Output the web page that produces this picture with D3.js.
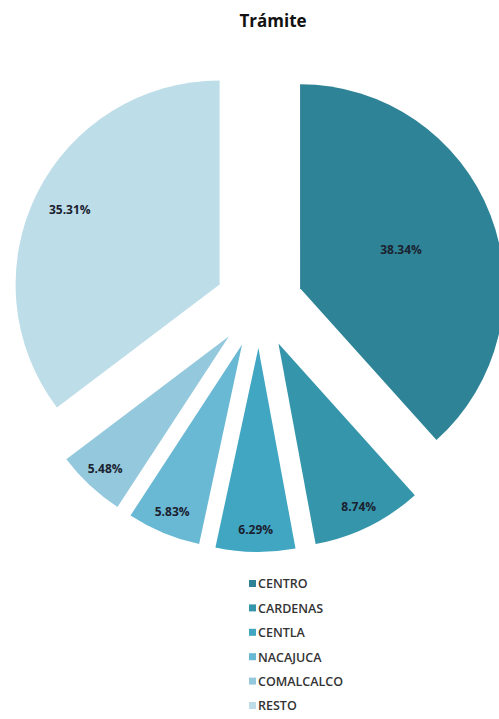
<!DOCTYPE html>
<html><head><meta charset="utf-8">
<script src="https://cdn.jsdelivr.net/npm/d3@7"></script>
<style>html,body{margin:0;padding:0;background:#fff;}</style>
</head><body>
<svg id="chart" width="499" height="719"></svg>
<script>
const title = "Trámite";
const categories = ["CENTRO","CARDENAS","CENTLA","NACAJUCA","COMALCALCO","RESTO"];
const values = [38.34, 8.74, 6.29, 5.83, 5.48, 35.31];
const colors = ["#2e8396","#3596ab","#40a6c2","#69b8d4","#94c9dd","#bddde9"];

const svg = d3.select("#chart");
const cx = 259, cy = 304, R = 204, explode = 44;

svg.append("text").attr("x", 273).attr("y", 27).attr("text-anchor","middle")
  .attr("font-family","'Open Sans', sans-serif").attr("font-weight","bold")
  .attr("font-size",17).attr("fill","#111").text(title);

const data = categories.map((c,i)=>({cat:c, value:values[i], color:colors[i]}));
const pie = d3.pie().sort(null).value(d=>d.value);
const arcs = pie(data);
const arc = d3.arc().innerRadius(0).outerRadius(R);
const labelFrac = {CENTRO:0.53, RESTO:0.82};

const g = svg.append("g").attr("transform",`translate(${cx},${cy})`);
const slices = g.selectAll("g.slice").data(arcs).join("g")
  .attr("transform", d => {
    const a = (d.startAngle + d.endAngle)/2;
    return `translate(${explode*Math.sin(a)},${-explode*Math.cos(a)})`;
  });
slices.append("path").attr("d", arc).attr("fill", d=>d.data.color);
slices.append("text")
  .attr("transform", d => {
    const a = (d.startAngle + d.endAngle)/2;
    const f = labelFrac[d.data.cat] ?? 0.89;
    return `translate(${R*f*Math.sin(a)},${-R*f*Math.cos(a)})`;
  })
  .attr("text-anchor","middle").attr("dy","0.35em")
  .attr("font-family","'Open Sans', sans-serif").attr("font-weight","bold")
  .attr("font-size",12).attr("fill","#1b2230")
  .text(d => d.data.value.toFixed(2) + "%");

const leg = svg.append("g").attr("transform","translate(249,584)");
const li = leg.selectAll("g").data(data).join("g")
  .attr("transform",(d,i)=>`translate(0,${i*24.4})`);
li.append("rect").attr("x",0).attr("y",-4).attr("width",7).attr("height",7).attr("fill",d=>d.color);
li.append("text").attr("x",9).attr("y",0).attr("dy","0.35em")
  .attr("font-family","'Open Sans', sans-serif").attr("font-size",12.5).attr("font-weight",600)
  .attr("fill","#333").text(d=>d.cat);
</script>
</body></html>
